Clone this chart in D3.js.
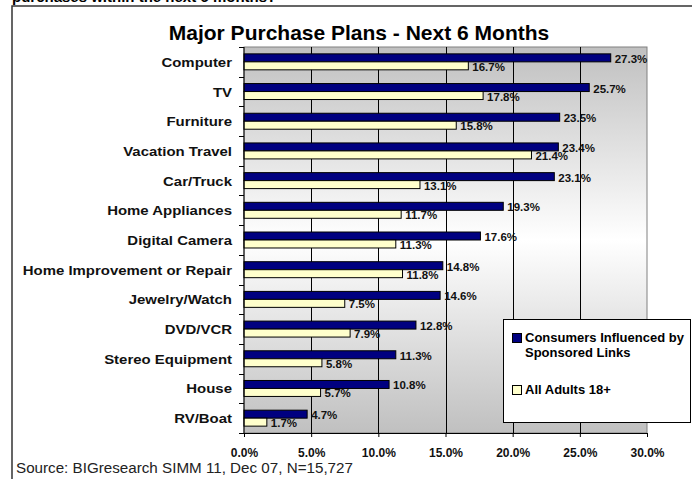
<!DOCTYPE html>
<html>
<head>
<meta charset="utf-8">
<title>Major Purchase Plans - Next 6 Months</title>
<style>
  body { margin: 0; background: #fff; }
  svg { display: block; font-family: Arial, "Liberation Sans", sans-serif; }
</style>
</head>
<body>
<svg width="692" height="479"></svg>
<script src="https://d3js.org/d3.v7.min.js"></script>
<script>

var categories = ["Computer", "TV", "Furniture", "Vacation Travel", "Car/Truck",
    "Home Appliances", "Digital Camera", "Home Improvement or Repair",
    "Jewelry/Watch", "DVD/VCR", "Stereo Equipment", "House", "RV/Boat"];
var seriesNames = ["Consumers Influenced by Sponsored Links", "All Adults 18+"];
var sponsored = [27.3, 25.7, 23.5, 23.4, 23.1, 19.3, 17.6, 14.8, 14.6, 12.8, 11.3, 10.8, 4.7];
var allAdults = [16.7, 17.8, 15.8, 21.4, 13.1, 11.7, 11.3, 11.8, 7.5, 7.9, 5.8, 5.7, 1.7];
var tickValues = [0, 5, 10, 15, 20, 25, 30];

var colors = ["#000080", "#ffffcc"];

var svg = d3.select("svg");

// plot area edges (don't use "top", it's window.top)
var pLeft = 244, pRight = 647, pTop = 47, pBottom = 433;

var x = d3.scaleLinear().domain([0, 30]).range([pLeft, pRight]);
var y = d3.scaleBand().domain(categories).range([pTop, pBottom]);
var y1 = d3.scaleBand().domain([0, 1]).range([0, y.bandwidth()]).paddingOuter(0.86);

// outer frame (clipped by the page like the original)
svg.append("path")
    .attr("d", "M12,479 L12,6 L692,6")
    .attr("fill", "none")
    .attr("stroke", "#333")
    .attr("stroke-width", 1.5);

svg.append("text")
    .attr("x", 12).attr("y", 2)
    .attr("font-size", 15).attr("font-weight", "bold")
    .text("purchases within the next 6 months?");

svg.append("text")
    .attr("x", 359).attr("y", 40)
    .attr("text-anchor", "middle")
    .attr("font-size", 21).attr("font-weight", "bold")
    .text("Major Purchase Plans - Next 6 Months");

// plot background gradient
var grad = svg.append("defs").append("linearGradient")
    .attr("id", "bg").attr("x1", 0).attr("y1", 0).attr("x2", 0).attr("y2", 1);
grad.append("stop").attr("offset", "0%").attr("stop-color", "#c0c0c0");
grad.append("stop").attr("offset", "50%").attr("stop-color", "#ffffff");
grad.append("stop").attr("offset", "100%").attr("stop-color", "#c0c0c0");

svg.append("rect")
    .attr("x", pLeft).attr("y", pTop)
    .attr("width", pRight - pLeft).attr("height", pBottom - pTop)
    .attr("fill", "url(#bg)")
    .attr("stroke", "#808080");

// gridlines
svg.append("g")
  .selectAll("line")
  .data(tickValues.slice(1, -1))
  .enter().append("line")
    .attr("x1", function(d) { return Math.round(x(d)) + 0.5; })
    .attr("x2", function(d) { return Math.round(x(d)) + 0.5; })
    .attr("y1", pTop).attr("y2", pBottom)
    .attr("stroke", "#000");

// bars
var rows = svg.append("g")
  .selectAll("g")
  .data(categories)
  .enter().append("g")
    .attr("transform", function(d) { return "translate(0," + y(d) + ")"; });

rows.each(function(c, i) {
  var g = d3.select(this);
  var vals = [sponsored[i], allAdults[i]];
  vals.forEach(function(v, s) {
    g.append("rect")
        .attr("x", x(0))
        .attr("y", y1(s))
        .attr("width", x(v) - x(0))
        .attr("height", y1.bandwidth())
        .attr("fill", colors[s])
        .attr("stroke", "#000")
        .attr("stroke-width", 1);
    g.append("text")
        .attr("x", x(v) + 4)
        .attr("y", y1(s) + y1.bandwidth() + 1)
        .attr("font-size", 11.5).attr("font-weight", "bold")
        .attr("fill", "#111")
        .text(v.toFixed(1) + "%");
  });
});

// y axis
var yAxis = svg.append("g")
    .attr("transform", "translate(" + pLeft + ",0)");
yAxis.append("line")
    .attr("x1", 0).attr("x2", 0).attr("y1", pTop).attr("y2", pBottom)
    .attr("stroke", "#000");
yAxis.selectAll(".tk")
  .data(categories.map(function(c) { return y(c); }).concat([pBottom]))
  .enter().append("line")
    .attr("x1", -5).attr("x2", 0)
    .attr("y1", function(d) { return Math.round(d) + 0.5; })
    .attr("y2", function(d) { return Math.round(d) + 0.5; })
    .attr("stroke", "#000");
yAxis.selectAll(".lbl")
  .data(categories)
  .enter().append("text")
    .attr("text-anchor", "end")
    .attr("transform", function(d) {
      return "translate(-12," + (y(d) + y.bandwidth() / 2 + 5) + ") scale(1.15,1)";
    })
    .attr("font-size", 13).attr("font-weight", "bold")
    .attr("fill", "#111")
    .text(function(d) { return d; });

// x axis
var xAxis = svg.append("g")
    .attr("transform", "translate(0," + pBottom + ")")
    .call(d3.axisBottom(x)
      .tickValues(tickValues)
      .tickSize(4)
      .tickPadding(11)
      .tickFormat(function(d) { return d.toFixed(1) + "%"; }));
xAxis.select(".domain").attr("stroke", "#000");
xAxis.selectAll("text")
    .attr("font-size", 12).attr("font-weight", "bold")
    .attr("font-family", "Arial, 'Liberation Sans', sans-serif")
    .attr("fill", "#111");

// legend
var legend = svg.append("g");
legend.append("rect")
    .attr("x", 503.5).attr("y", 319.5)
    .attr("width", 187).attr("height", 103)
    .attr("fill", "#fff").attr("stroke", "#000");

var legendLines = [["Consumers Influenced by", "Sponsored Links"], ["All Adults 18+"]];
var legendY = [333, 385];
legendLines.forEach(function(lines, s) {
  legend.append("rect")
      .attr("x", 512.5).attr("y", legendY[s] + 0.5)
      .attr("width", 9).attr("height", 9)
      .attr("fill", colors[s]).attr("stroke", "#000");
  legend.append("text")
      .attr("x", 525).attr("y", legendY[s] + 9)
      .attr("font-size", 13).attr("font-weight", "bold")
      .selectAll("tspan")
      .data(lines)
      .enter().append("tspan")
        .attr("x", 525)
        .attr("dy", function(d, i) { return i ? 15 : 0; })
        .text(function(d) { return d; });
});

svg.append("text")
    .attr("x", 16).attr("y", 473)
    .attr("font-size", 15.2)
    .attr("fill", "#222")
    .text("Source: BIGresearch SIMM 11, Dec 07, N=15,727");

</script>
</body>
</html>
